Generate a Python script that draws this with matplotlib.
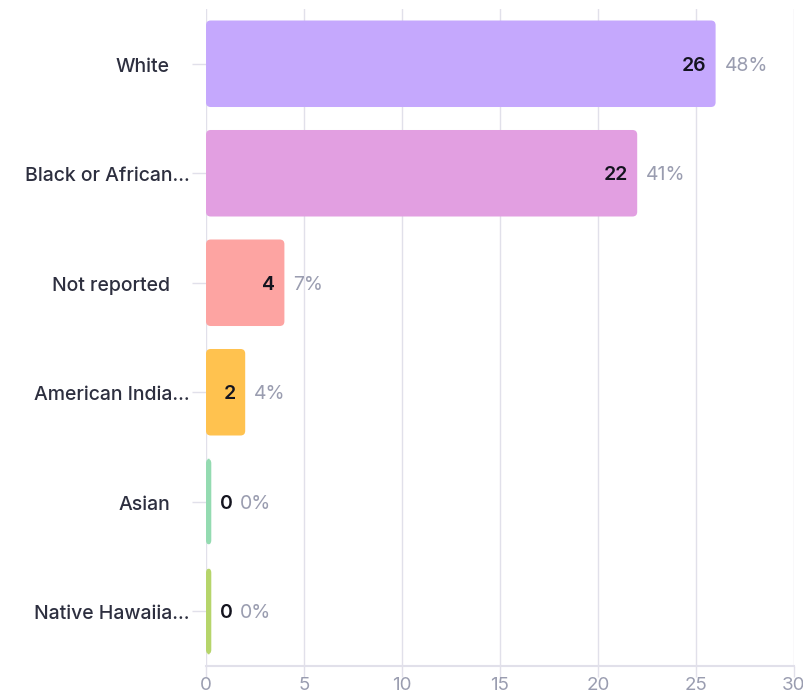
import matplotlib.pyplot as plt
from matplotlib.patches import FancyBboxPatch
from matplotlib import transforms

plt.rcParams['font.family'] = ['Inter', 'DejaVu Sans']

# respondent counts by race
categories = ['White', 'Black or African...', 'Not reported',
              'American India...', 'Asian', 'Native Hawaiia...']
truncated = [False, True, False, True, False, True]
counts = [26, 22, 4, 2, 0, 0]
percents = ['48%', '41%', '7%', '4%', '0%', '0%']
colors = ['#c5a8fd', '#e29fe1', '#fda4a2', '#ffc24f', '#94dbb1', '#b6d56b']
x_ticks = [0, 5, 10, 15, 20, 25, 30]

grid_color = '#e1e0ea'
label_color = '#2d2f3f'
muted_color = '#9a9db0'

fig = plt.figure(figsize=(8.04, 6.98), dpi=100)
ax = fig.add_axes([206 / 804, 1 - 666 / 698, 588 / 804, 657 / 698])

ax.set_xlim(0, 30)
ax.set_ylim(5.5, -0.5)

bar_h = 0.79
stub = 0.27  # smallest drawn width so empty rows stay visible
px_x = 588 / 30
px_y = 657 / 6
aspect = px_x / px_y
for i, (v, c) in enumerate(zip(counts, colors)):
    w = max(v, stub)
    patch = FancyBboxPatch((0, i - bar_h / 2), w, bar_h,
                           boxstyle='round,pad=0,rounding_size=0.24',
                           mutation_aspect=aspect,
                           facecolor=c, edgecolor='none', zorder=3)
    ax.add_patch(patch)

    end = w
    if v > 0:
        ax.annotate(str(v), (end, i), xytext=(-9, -2), textcoords='offset pixels',
                    ha='right', va='center', fontsize=14, fontweight='semibold',
                    color='#14141f', zorder=4)
        ax.annotate(percents[i], (end, i), xytext=(9, -2), textcoords='offset pixels',
                    ha='left', va='center', fontsize=14, color=muted_color, zorder=4)
    else:
        ax.annotate(str(v), (end, i), xytext=(9, -2), textcoords='offset pixels',
                    ha='left', va='center', fontsize=14, fontweight='semibold',
                    color='#14141f', zorder=4)
        ax.annotate(percents[i], (end, i), xytext=(29, -2), textcoords='offset pixels',
                    ha='left', va='center', fontsize=14, color=muted_color, zorder=4)

# category labels, left of the short tick marks
ax.set_yticks(range(len(categories)))
ax.set_yticklabels([])
for i, name in enumerate(categories):
    offset = -16 if truncated[i] else -36
    ax.annotate(name, (0, i), xytext=(offset, -3), textcoords='offset pixels',
                xycoords=transforms.blended_transform_factory(ax.transAxes, ax.transData),
                ha='right', va='center', fontsize=14, fontweight='medium',
                color=label_color, annotation_clip=False)

ax.set_xticks(x_ticks)
ax.set_xticklabels([str(t) for t in x_ticks])
ax.tick_params(axis='x', length=8, width=1, color=grid_color, colors=muted_color,
               labelsize=13.5, pad=0)
ax.tick_params(axis='y', length=10, width=1, color=grid_color)

ax.grid(axis='x', color=grid_color, linewidth=1, zorder=0)
for side in ['top', 'right', 'left']:
    ax.spines[side].set_visible(False)
ax.spines['bottom'].set_color(grid_color)
ax.spines['bottom'].set_linewidth(1.5)
ax.set_axisbelow(True)

fig.savefig('out.png', dpi=100)
